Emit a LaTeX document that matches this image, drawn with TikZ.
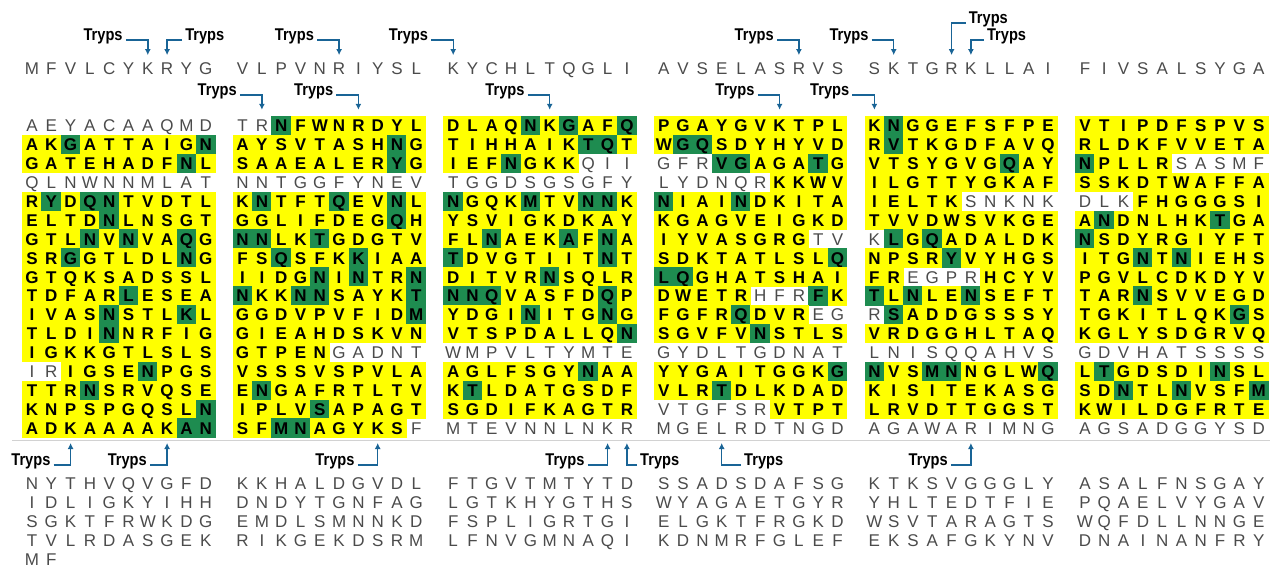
\documentclass[tikz,border=0pt]{standalone}
\usepackage{fontspec}
\usepackage{tikz}
\usetikzlibrary{arrows.meta}
\newfontfamily\seqfont{Liberation Sans}
\newfontfamily\trypsfont[FakeStretch=0.86]{Liberation Sans}
\definecolor{hlyellow}{RGB}{255,255,0}
\definecolor{hlgreen}{RGB}{30,140,80}
\definecolor{cutblue}{RGB}{25,100,150}
\definecolor{plaingray}{RGB}{75,75,75}

% one row of residues: name prefix, block (0-5), y, letters
% capitals = yellow, small letters = plain, * = next residue green
\newcount\rescol
\newif\ifgreenres
\newcommand\resrow[4]{\rescol=0 \greenresfalse
  \def\resname{#1}\def\resblock{#2}\def\resy{#3}%
  \expandafter\resparse#4\relax}
\def\resparse#1{\ifx\relax#1\else
  \if*#1\greenrestrue\else\rescell{#1}\fi
  \expandafter\resparse\fi}
\newcommand\rescell[1]{\advance\rescol by 1
  \ifnum`#1<`a
    \ifgreenres\def\resstyle{gcell}\else\def\resstyle{ycell}\fi
    \def\resltr{#1}%
  \else
    \def\resstyle{pcell}\uppercase{\def\resltr{#1}}%
  \fi
  \node[\resstyle] (\resname c\the\rescol) at ({32+210.6*(\resblock)+19.3*(\the\rescol-1)},{\resy}) {\resltr};
  \greenresfalse}

\tikzset{
  cellbase/.style={inner sep=0pt, minimum width=19.8pt, minimum height=19.4pt,
    text height=12.2pt, text depth=0pt},
  pcell/.style={cellbase, text=plaingray, font=\seqfont\fontsize{17}{17}\selectfont},
  ycell/.style={cellbase, fill=hlyellow, font=\seqfont\bfseries\fontsize{17}{17}\selectfont},
  gcell/.style={cellbase, fill=hlgreen, font=\seqfont\bfseries\fontsize{17}{17}\selectfont},
  tryps/.style={font=\trypsfont\bfseries\fontsize{17}{17}\selectfont, inner xsep=3pt, inner ysep=1pt},
  cleave/.style={draw=cutblue, line width=1.4pt, -{Latex[length=6pt,width=6pt]}},
  sepline/.style={draw=gray!35, line width=0.6pt}
}

\begin{document}
\begin{tikzpicture}[x=1pt, y=-1pt]
\useasboundingbox (0,0) rectangle (1278,568);

% sequence above the alignment
\foreach \s [count=\b] in {mfvlcykryg,vlpvnriysl,kychltqgli,avselasrvs,sktgrkllai,fivsalsyga}
  {\resrow{top\b}{\b-1}{68}{\s}}

% alignment blocks
\foreach \s [count=\r] in {aeyacaaqmd,AK*GATTAIG*N,GATEHADF*NL,qlnwnnmlat,R*YD*Q*NTVDTL,ELTD*NLNSGT,
    GTL*NV*NVA*QG,SR*GGTLDL*NG,GTQKSADSSL,TDFAR*LESEA,IVAS*NSTL*KL,TLDI*NNRFIG,IGKKGTLSLS,
    irIGSE*NPGS,TTR*NSRVQSE,KNPSPGQSL*N,ADKAAAAK*A*N}
  {\resrow{b1r\r}{0}{125.7+18.9*(\r-1)}{\s}}
\foreach \s [count=\r] in {tr*NFWNRDYL,AYSVTASH*NG,SAAEALER*YG,nntggfynev,K*NTFT*QEV*NL,GGLIFDEG*QH,
    *N*NLK*TGDGTV,FS*QSFK*KIAA,IIDG*NI*NTR*N,*NKK*N*NSAYK*T,GGDVPVFID*M,GIEAHDSKVN,GTPENgadnt,
    VSSSVSPVLA,E*NGAFRTLTV,IPLV*SAPAGT,SF*M*NAGYKSf}
  {\resrow{b2r\r}{1}{125.7+18.9*(\r-1)}{\s}}
\foreach \s [count=\r] in {DLAQ*NK*GAF*Q,TIHHAIK*T*QT,IEF*NGKKqii,tggdsgsgfy,*NGQK*MTV*N*NK,YSVIGKDKAY,
    FL*NAEK*AF*NA,*TDVGTIIT*NT,DITVR*NSQLR,*N*N*QVASFD*QP,YDGI*NITG*NG,VTSPDALLQ*N,wmpvltymte,
    AGLFSGY*NAA,K*TLDATGSDF,SGDIFKAGTR,mtevnnlnkr}
  {\resrow{b3r\r}{2}{125.7+18.9*(\r-1)}{\s}}
\foreach \s [count=\r] in {PGAYGVKTPL,W*G*QSDYHYVD,gfr*V*GAGA*TG,lydnqrKKWV,*NIAI*NDKITA,KGAGVEIGKD,
    IYVASGRGtv,SDKTATLSL*Q,*L*QGHATSHAI,DWETRhfr*FK,FGFR*QDVReg,SGVFV*NSTLS,gydltgdnat,
    YYGAITGGK*G,VLR*TDLKDAD,vtgfsrVTPT,mgelrdtngd}
  {\resrow{b4r\r}{3}{125.7+18.9*(\r-1)}{\s}}
\foreach \s [count=\r] in {K*NGGEFSFPE,R*VTKGDFAVQ,VTSYGVG*QAY,ILGTTYGKAF,IELTKsnknk,TVVDWSVKGE,
    k*LG*QADALDK,NPSR*YVYHGS,FRegprHCYV,*TL*NLE*NSEFT,r*SADDGSSSY,VRDGGHLTAQ,lnisqqahvs,
    *NVS*M*NNGLW*Q,KISITEKASG,LRVDTTGGST,agawarimng}
  {\resrow{b5r\r}{4}{125.7+18.9*(\r-1)}{\s}}
\foreach \s [count=\r] in {VTIPDFSPVS,RLDKFVVETA,*NPLLRsasmf,SSKDTWAFFA,dlkFHGGGSI,A*NDNLHK*TGA,
    *NSDYRGIYFT,ITG*NT*NIEHS,PGVLCDKDYV,TAR*NSVVEGD,TGKITLQK*GS,KGLYSDGRVQ,gdvhatssss,
    L*TGDSDI*NSL,SD*NTL*NVSF*M,KWILDGFRTE,agsadggysd}
  {\resrow{b6r\r}{5}{125.7+18.9*(\r-1)}{\s}}

\draw[sepline] (12,440) -- (1270,440);

% sequence below the alignment
\foreach \s [count=\b] in {nythvqvgfd,kkhaldgvdl,ftgvtmtytd,ssadsdafsg,ktksvgggly,asalfnsgay}
  {\resrow{low1b\b}{\b-1}{483}{\s}}
\foreach \s [count=\b] in {idligkyihh,dndytgnfag,lgtkhygths,wyagaetgyr,yhltedtfie,pqaelvygav}
  {\resrow{low2b\b}{\b-1}{502}{\s}}
\foreach \s [count=\b] in {sgktfrwkdg,emdlsmnnkd,fspligrtgi,elgktfrgkd,wsvtaragts,wqfdllnnge}
  {\resrow{low3b\b}{\b-1}{521}{\s}}
\foreach \s [count=\b] in {tvlrdasgek,rikgekdsrm,lfnvgmnaqi,kdnmrfglef,eksafgkynv,dnainanfry}
  {\resrow{low4b\b}{\b-1}{540}{\s}}
\resrow{low5b1}{0}{559}{mf}

% trypsin sites, top sequence
\node[tryps, anchor=base east] (tu1) at (125.8,40) {Tryps};
\node[tryps, anchor=base west] (tu2) at (182.1,40) {Tryps};
\node[tryps, anchor=base east] (tu3) at (317.1,40) {Tryps};
\node[tryps, anchor=base east] (tu4) at (431.2,40) {Tryps};
\node[tryps, anchor=base east] (tu5) at (776.9,40) {Tryps};
\node[tryps, anchor=base east] (tu6) at (871.7,40) {Tryps};
\node[tryps, anchor=base west] (tu7) at (965.6,23) {Tryps};
\node[tryps, anchor=base west] (tu8) at (983.9,40) {Tryps};
\draw[cleave, shorten >=3pt] (tu1.base east) -| (top1c7.north);
\draw[cleave, shorten >=3pt] (tu2.base west) -| (top1c8.north);
\draw[cleave, shorten >=3pt] (tu3.base east) -| (top2c6.north);
\draw[cleave, shorten >=3pt] (tu4.base east) -| (top3c1.north);
\draw[cleave, shorten >=3pt] (tu5.base east) -| (top4c8.north);
\draw[cleave, shorten >=3pt] (tu6.base east) -| (top5c2.north);
\draw[cleave, shorten >=3pt] (tu7.base west) -| (top5c5.north);
\draw[cleave, shorten >=3pt] (tu8.base west) -| (top5c6.north);

% trypsin sites, first alignment row
\node[tryps, anchor=base east] (tm1) at (239.9,95) {Tryps};
\node[tryps, anchor=base east] (tm2) at (336.4,95) {Tryps};
\node[tryps, anchor=base east] (tm3) at (527.7,95) {Tryps};
\node[tryps, anchor=base east] (tm4) at (757.6,95) {Tryps};
\node[tryps, anchor=base east] (tm5) at (852.4,95) {Tryps};
\draw[cleave, shorten >=6pt] (tm1.base east) -| (b2r1c2.north);
\draw[cleave, shorten >=6pt] (tm2.base east) -| (b2r1c7.north);
\draw[cleave, shorten >=6pt] (tm3.base east) -| (b3r1c6.north);
\draw[cleave, shorten >=6pt] (tm4.base east) -| (b4r1c7.north);
\draw[cleave, shorten >=6pt] (tm5.base east) -| (b5r1c1.north);

% trypsin sites, last alignment row
\node[tryps, anchor=base east] (tb1) at (53.6,465) {Tryps};
\node[tryps, anchor=base east] (tb2) at (150,465) {Tryps};
\node[tryps, anchor=base east] (tb3) at (357.7,465) {Tryps};
\node[tryps, anchor=base east] (tb4) at (587.6,465) {Tryps};
\node[tryps, anchor=base west] (tb5) at (637,465) {Tryps};
\node[tryps, anchor=base west] (tb6) at (741,465) {Tryps};
\node[tryps, anchor=base east] (tb7) at (950.9,465) {Tryps};
\draw[cleave, shorten >=5pt] (tb1.base east) -| (b1r17c3.south);
\draw[cleave, shorten >=5pt] (tb2.base east) -| (b1r17c8.south);
\draw[cleave, shorten >=5pt] (tb3.base east) -| (b2r17c8.south);
\draw[cleave, shorten >=5pt] (tb4.base east) -| (b3r17c9.south);
\draw[cleave, shorten >=5pt] (tb5.base west) -| (b3r17c10.south);
\draw[cleave, shorten >=5pt] (tb6.base west) -| (b4r17c4.south);
\draw[cleave, shorten >=5pt] (tb7.base east) -| (b5r17c6.south);

\end{tikzpicture}
\end{document}
